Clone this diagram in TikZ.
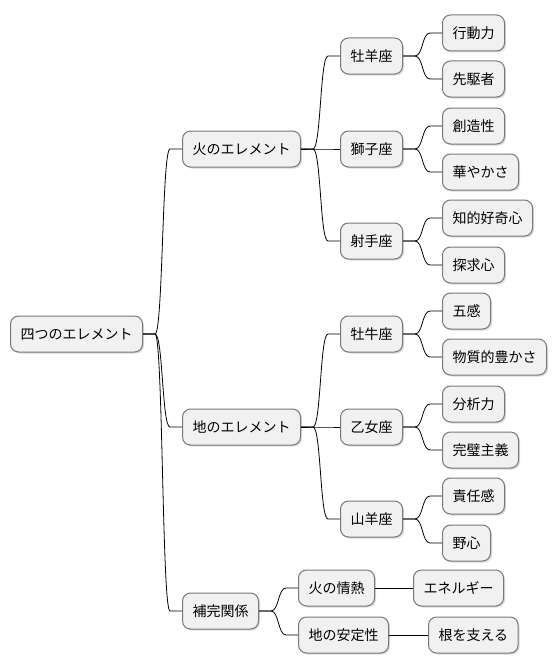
\documentclass[tikz,border=0pt]{standalone}
\usepackage{fontspec}
\usepackage{tikz}
\usetikzlibrary{shadows}
\newfontfamily\jpfont{Noto Sans CJK JP}
\definecolor{BoxFill}{RGB}{241,241,241}
\definecolor{BoxLine}{RGB}{120,120,120}

\begin{document}
\begin{tikzpicture}[x=1pt, y=-1pt, every node/.style={fill=BoxFill, draw=BoxLine, line width=1pt, rounded corners=8pt, anchor=west, minimum height=36pt, inner xsep=10pt, inner ysep=0pt, font=\jpfont\fontsize{14}{16}\selectfont, drop shadow={shadow xshift=1.5pt, shadow yshift=-1.5pt, opacity=0.15, fill=black}}, conn/.style={line width=0.8pt, draw=black}]
\useasboundingbox (0,0) rectangle (556,669);

% root and first level
\node (root) at (10,334) {四つのエレメント};
\node (fire) at (182,149) {火のエレメント};
\node (earth) at (182,427) {地のエレメント};
\node (comp) at (182,611) {補完関係};

% signs
\node (aries) at (340,56) {牡羊座};
\node (leo) at (340,149) {獅子座};
\node (sag) at (340,241) {射手座};
\node (taurus) at (340,334) {牡牛座};
\node (virgo) at (340,427) {乙女座};
\node (capri) at (340,519) {山羊座};

% traits
\node (act) at (442,33) {行動力};
\node (pioneer) at (442,79) {先駆者};
\node (creat) at (442,126) {創造性};
\node (glam) at (442,172) {華やかさ};
\node (curious) at (442,218) {知的好奇心};
\node (quest) at (442,265) {探求心};
\node (senses) at (442,311) {五感};
\node (wealth) at (442,357) {物質的豊かさ};
\node (analysis) at (442,404) {分析力};
\node (perfect) at (442,450) {完璧主義};
\node (duty) at (442,496) {責任感};
\node (ambition) at (442,543) {野心};

% complement branch
\node (passion) at (298,588) {火の情熱};
\node (stable) at (298,635) {地の安定性};
\node (energy) at (413,588) {エネルギー};
\node (roots) at (428,635) {根を支える};

\foreach \a/\b in {root/fire, root/earth, root/comp, fire/aries, fire/leo, fire/sag, earth/taurus, earth/virgo, earth/capri, aries/act, aries/pioneer, leo/creat, leo/glam, sag/curious, sag/quest, taurus/senses, taurus/wealth, virgo/analysis, virgo/perfect, capri/duty, capri/ambition, comp/passion, comp/stable}
  \draw [conn] (\a.east) -- ++(12,0) .. controls +(8,0) and +(-8,0) .. ([xshift=-12pt]\b.west) -- (\b.west);
\draw [conn] (passion) -- (energy);
\draw [conn] (stable) -- (roots);
\end{tikzpicture}
\end{document}
